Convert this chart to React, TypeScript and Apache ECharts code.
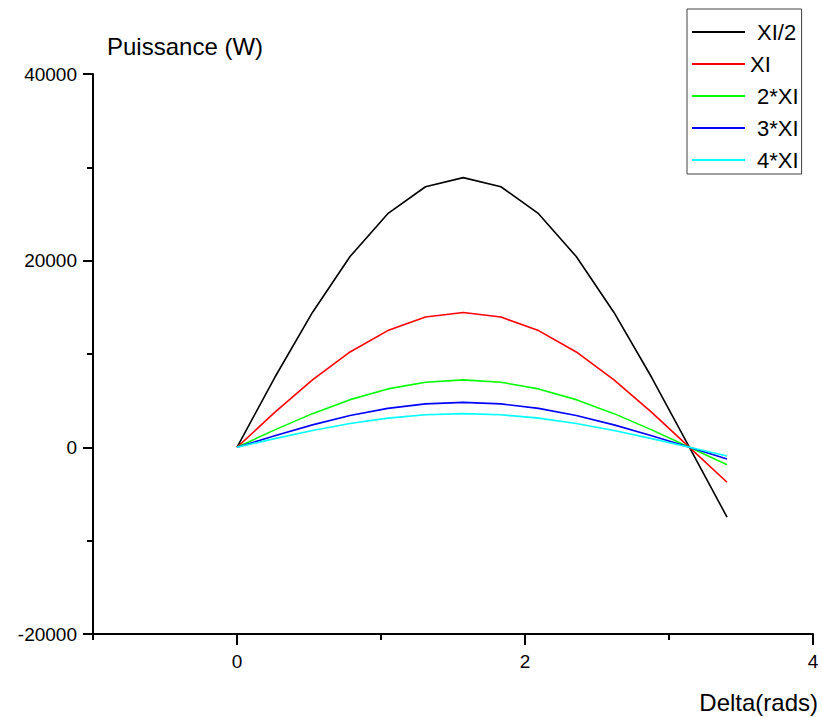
import React, { useEffect, useRef } from "react";
import * as echarts from "echarts";

const delta = [0, 0.262, 0.524, 0.785, 1.047, 1.309, 1.571, 1.833, 2.094, 2.356, 2.618, 2.880, 3.142, 3.403];
const seriesNames = ["XI/2", "XI", "2*XI", "3*XI", "4*XI"];
const seriesColors = ["#000000", "#ff0000", "#00ff00", "#0000ff", "#00ffff"];
const pHalf = [0, 7480, 14450, 20440, 25030, 27920, 28900, 27920, 25030, 20440, 14450, 7480, 0, -7480];
const pOne = [0, 3740, 7225, 10220, 12510, 13960, 14450, 13960, 12510, 10220, 7225, 3740, 0, -3740];
const pTwo = [0, 1870, 3610, 5110, 6260, 6980, 7225, 6980, 6260, 5110, 3610, 1870, 0, -1870];
const pThree = [0, 1247, 2408, 3406, 4171, 4653, 4817, 4653, 4171, 3406, 2408, 1247, 0, -1247];
const pFour = [0, 935, 1806, 2554, 3128, 3489, 3612, 3489, 3128, 2554, 1806, 935, 0, -935];
const seriesValues = [pHalf, pOne, pTwo, pThree, pFour];
const xMajorTicks = [0, 2, 4];
const xMinorTicks = [-1, 1, 3];
const xAxisTitle = "Delta(rads)";
const yAxisTitle = "Puissance (W)";

const FONT = "'Liberation Sans', Arial, sans-serif";

export default function App() {
  const ref = useRef<HTMLDivElement>(null);
  useEffect(() => {
    if (!ref.current) return;
    const chart = echarts.init(ref.current, undefined, { renderer: "svg" });
    const option: any = {
      animation: false,
      backgroundColor: "#ffffff",
      textStyle: { fontFamily: FONT, color: "#000" },
      title: {
        text: xAxisTitle,
        right: 4,
        top: 690,
        padding: 0,
        textStyle: { fontSize: 24, lineHeight: 24, fontWeight: "normal", color: "#000", fontFamily: FONT },
      },
      grid: { left: 93, right: 9, top: 74, bottom: 83, containLabel: false, outerBoundsMode: "none" },
      legend: {
        orient: "vertical",
        left: 687,
        top: 9,
        padding: [11, 3, 2, 4],
        borderColor: "#404040",
        borderWidth: 1,
        itemWidth: 53,
        itemHeight: 14,
        itemGap: 8,
        itemStyle: { opacity: 0 },
        textStyle: { fontSize: 22, lineHeight: 24, color: "#000", fontFamily: FONT, padding: [0, 0, 0, 7] },
        data: seriesNames.map((n, i) =>
          i === 1 ? { name: n, textStyle: { padding: [0, 0, 0, 0] } } : { name: n }
        ),
      },
      xAxis: [
        {
          type: "value",
          min: -1,
          max: 4,
          axisLine: { show: true, onZero: false, lineStyle: { color: "#000", width: 2 } },
          axisTick: { show: true, customValues: xMajorTicks, length: 11, lineStyle: { color: "#000", width: 2 } },
          axisLabel: { customValues: xMajorTicks, fontSize: 19, color: "#000", fontFamily: FONT, margin: 18 },
          splitLine: { show: false },
        },
        {
          type: "value",
          min: -1,
          max: 4,
          position: "bottom",
          axisLine: { show: false, onZero: false },
          axisTick: { show: true, customValues: xMinorTicks, length: 6, lineStyle: { color: "#000", width: 2 } },
          axisLabel: { show: false },
          splitLine: { show: false },
        },
      ],
      yAxis: {
        type: "value",
        min: -20000,
        max: 40000,
        interval: 20000,
        name: yAxisTitle,
        nameLocation: "end",
        nameGap: 28,
        nameTextStyle: {
          fontSize: 24,
          color: "#000",
          fontFamily: FONT,
          align: "left",
          verticalAlign: "middle",
          padding: [0, 0, 0, 14],
        },
        axisLine: { show: true, onZero: false, lineStyle: { color: "#000", width: 2 } },
        axisTick: { show: true, length: 10, lineStyle: { color: "#000", width: 2 } },
        minorTick: { show: true, splitNumber: 2, length: 6, lineStyle: { color: "#000", width: 2 } },
        axisLabel: {
          fontSize: 19,
          color: "#000",
          fontFamily: FONT,
          margin: 16,
          formatter: (v: number) => String(v),
        },
        splitLine: { show: false },
        minorSplitLine: { show: false },
      },
      series: seriesNames.map((n, i) => ({
        name: n,
        type: "line",
        xAxisIndex: 0,
        symbol: "none",
        showSymbol: false,
        color: seriesColors[i],
        lineStyle: { color: seriesColors[i], width: 1.6 },
        data: delta.map((d, j) => [d, seriesValues[i][j]]),
      })),
    };
    chart.setOption(option);
    return () => chart.dispose();
  }, []);
  return (
    <div
      ref={ref}
      style={{ position: "fixed", left: 0, top: 0, width: 822, height: 717 }}
    />
  );
}
